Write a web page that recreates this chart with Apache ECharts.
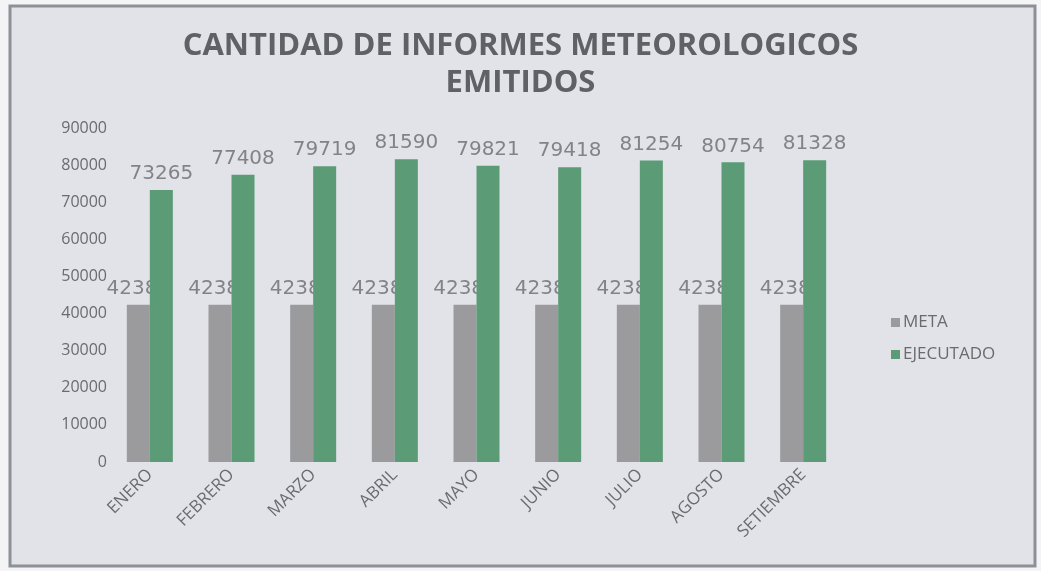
<!DOCTYPE html>
<html>
<head>
<meta charset="utf-8">
<script src="https://cdn.jsdelivr.net/npm/echarts@6/dist/echarts.min.js"></script>
<style>
  html, body { margin: 0; padding: 0; background: #fff; }
  #chart { width: 1041px; height: 571px; }
</style>
</head>
<body>
<div id="chart"></div>
<script>
var categories = ['ENERO', 'FEBRERO', 'MARZO', 'ABRIL', 'MAYO', 'JUNIO', 'JULIO', 'AGOSTO', 'SETIEMBRE']
var meta = [42387, 42387, 42387, 42387, 42387, 42387, 42387, 42387, 42387]
var ejecutado = [73265, 77408, 79719, 81590, 79821, 79418, 81254, 80754, 81328]

var textGrey = '#6b6b6e'
var myChart = echarts.init(document.getElementById('chart'))

var option = {
  backgroundColor: '#f4f4f6',
  textStyle: { fontFamily: 'Open Sans' },
  graphic: [{
    type: 'rect',
    z: -10,
    shape: { x: 10, y: 6, width: 1025, height: 560 },
    style: { fill: '#e1e3e8', stroke: '#8d9097', lineWidth: 3 }
  }],
  title: {
    text: 'CANTIDAD DE INFORMES METEOROLOGICOS\nEMITIDOS',
    left: 'center',
    top: 23,
    textStyle: {
      fontFamily: 'Open Sans',
      fontWeight: 'bold',
      fontSize: 31,
      lineHeight: 37,
      color: '#606165'
    }
  },
  legend: {
    orient: 'vertical',
    left: 886,
    top: 309,
    itemWidth: 9,
    itemHeight: 9,
    itemGap: 15,
    icon: 'rect',
    textStyle: { fontSize: 17, color: textGrey, padding: [0, 0, 0, -2] },
    data: ['META', 'EJECUTADO']
  },
  grid: { left: 109, top: 128, width: 735, bottom: 109, containLabel: false },
  xAxis: {
    type: 'category',
    data: categories,
    axisLine: { show: false },
    axisTick: { show: false },
    axisLabel: { rotate: 45, color: textGrey, fontSize: 17, margin: 10, interval: 0 }
  },
  yAxis: {
    type: 'value',
    min: 0,
    max: 90000,
    interval: 10000,
    splitLine: { show: false },
    axisLine: { show: false },
    axisTick: { show: false },
    axisLabel: {
      color: textGrey,
      fontSize: 16,
      margin: 2,
      formatter: function (v) { return String(v) }
    }
  },
  series: [
    {
      name: 'META',
      type: 'bar',
      data: meta,
      barWidth: 23,
      barGap: '0%',
      z: 2,
      itemStyle: { color: '#9b9b9e' },
      label: { show: true, position: 'top', distance: 6, color: '#838387', fontSize: 20, fontFamily: 'DejaVu Sans' }
    },
    {
      name: 'EJECUTADO',
      type: 'bar',
      data: ejecutado,
      barWidth: 23,
      z: 3,
      itemStyle: { color: '#5b9b76' },
      label: { show: true, position: 'top', distance: 6, color: '#838387', fontSize: 20, fontFamily: 'DejaVu Sans' }
    }
  ]
}

myChart.setOption(option)
</script>
</body>
</html>
